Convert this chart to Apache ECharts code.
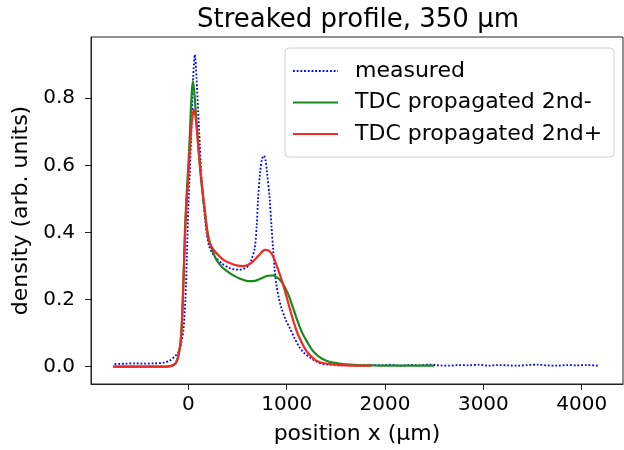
<!DOCTYPE html>
<html>
<head>
<meta charset="utf-8">
<script src="https://cdn.jsdelivr.net/npm/echarts@6/dist/echarts.min.js"></script>
<style>html,body{margin:0;padding:0;background:#fff}#c{width:624px;height:450px}</style>
</head>
<body>
<div id="c"></div>
<script>
var xTicks = [0, 1000, 2000, 3000, 4000];
var yTicks = [0, 0.2, 0.4, 0.6, 0.8];

var measuredX = [-750,-650,-550,-450,-350,-250,-190,-140,-100,-70,-50,-30,-15,0,15,32,49,66,83,100,117,134,150,170,185,210,240,286,340,421,470,523,570,607,640,675,695,709,730,750,767,785,800,827,845,861,878,895,920,946,990,1030,1080,1132,1180,1234,1300,1366,1450,1550,1650,1750,1850,1950,2050,2150,2250,2350,2450,2550,2650,2750,2850,2950,3050,3150,3250,3350,3450,3550,3650,3750,3850,3950,4050,4180];
var measuredY = [0.008,0.009,0.010,0.009,0.010,0.012,0.018,0.03,0.045,0.075,0.11,0.2,0.33,0.48,0.58,0.71,0.86,0.93,0.86,0.76,0.66,0.56,0.50,0.44,0.40,0.36,0.34,0.323,0.308,0.294,0.29,0.289,0.293,0.30,0.318,0.353,0.42,0.50,0.58,0.62,0.629,0.615,0.58,0.50,0.42,0.353,0.29,0.245,0.205,0.175,0.14,0.116,0.085,0.057,0.04,0.028,0.016,0.008,0.006,0.004,0.005,0.003,0.005,0.004,0.006,0.003,0.005,0.004,0.006,0.004,0.003,0.005,0.004,0.006,0.003,0.005,0.004,0.003,0.005,0.006,0.004,0.003,0.005,0.004,0.005,0.003];

var minusX = [-766,-300,-200,-150,-120,-100,-80,-65,-50,-35,-20,0,15,30,45,60,80,100,120,140,160,185,210,240,286,350,421,490,556,610,658,710,760,810,861,900,946,990,1030,1065,1098,1130,1166,1220,1267,1320,1369,1430,1504,1600,1707,1850,2000,2200,2500];
var minusY = [0,0,0.001,0.005,0.015,0.035,0.07,0.14,0.26,0.4,0.5,0.6,0.69,0.79,0.851,0.82,0.74,0.66,0.59,0.53,0.48,0.42,0.38,0.35,0.318,0.295,0.279,0.267,0.259,0.255,0.255,0.259,0.266,0.271,0.272,0.266,0.254,0.232,0.205,0.175,0.146,0.12,0.096,0.068,0.047,0.032,0.022,0.015,0.011,0.007,0.005,0.004,0.003,0.003,0.003];

var plusX = [-766,-300,-200,-150,-120,-100,-80,-65,-50,-35,-20,0,15,35,56,75,95,115,135,150,170,185,201,240,286,350,421,490,556,610,658,720,777,810,845,870,895,930,963,1000,1030,1070,1115,1160,1200,1250,1301,1370,1437,1550,1700,1860];
var plusY = [0,0,0.001,0.005,0.015,0.035,0.07,0.13,0.25,0.38,0.48,0.57,0.65,0.73,0.767,0.74,0.68,0.61,0.55,0.51,0.46,0.42,0.383,0.355,0.338,0.32,0.309,0.302,0.3,0.304,0.314,0.333,0.348,0.347,0.338,0.323,0.304,0.275,0.245,0.207,0.175,0.134,0.096,0.068,0.047,0.03,0.018,0.011,0.008,0.005,0.003,0.003];

function zip(xs, ys) { return xs.map(function (x, i) { return [x, ys[i]]; }); }

var FONT = 'DejaVu Sans';
var chart = echarts.init(document.getElementById('c'), null, {renderer: 'canvas'});
chart.setOption({
  animation: false,
  backgroundColor: '#ffffff',
  textStyle: {fontFamily: FONT},
  graphic: [{
    type: 'text', x: 358, y: 20,
    style: {text: 'Streaked profile, 350 µm', font: '26px "DejaVu Sans"', fill: '#000', align: 'center', verticalAlign: 'middle'}
  }],
  grid: {left: 91, top: 37, width: 532, height: 350, show: true, borderColor: '#222', borderWidth: 1, backgroundColor: 'transparent'},
  legend: {
    orient: 'vertical', left: 285, top: 48,
    padding: [11, 12, 11, 7], itemGap: 7.5, itemWidth: 45, itemHeight: 24,
    backgroundColor: 'rgba(255,255,255,0.8)', borderColor: '#d0d0d0', borderWidth: 1, borderRadius: 4,
    itemStyle: {opacity: 0},
    textStyle: {fontFamily: FONT, fontSize: 22, color: '#000', padding: [0, 0, 0, 12], lineHeight: 24},
    data: ['measured', 'TDC propagated 2nd-', 'TDC propagated 2nd+']
  },
  xAxis: {
    type: 'value', min: -990, max: 4420,
    name: 'position x (µm)', nameLocation: 'middle', nameGap: 39,
    nameTextStyle: {fontFamily: FONT, fontSize: 22, color: '#000'},
    axisLine: {show: true, onZero: false, lineStyle: {color: '#222', width: 1}},
    axisTick: {show: true, inside: false, length: 6, lineStyle: {color: '#222'}, customValues: xTicks},
    axisLabel: {fontFamily: FONT, fontSize: 20, color: '#000', margin: 11, customValues: xTicks,
      formatter: function (v) { return String(v); }},
    splitLine: {show: false}
  },
  yAxis: {
    type: 'value', min: -0.0515, max: 0.9826,
    name: 'density (arb. units)', nameLocation: 'middle', nameGap: 58, nameRotate: 90,
    nameTextStyle: {fontFamily: FONT, fontSize: 22, color: '#000'},
    axisLine: {show: true, onZero: false, lineStyle: {color: '#222', width: 1}},
    axisTick: {show: true, inside: false, length: 6, lineStyle: {color: '#222'}, customValues: yTicks},
    axisLabel: {fontFamily: FONT, fontSize: 20, color: '#000', margin: 16, customValues: yTicks,
      formatter: function (v) { return v.toFixed(1); }},
    splitLine: {show: false}
  },
  series: [
    {name: 'measured', type: 'line', data: zip(measuredX, measuredY), symbol: 'none', smooth: 0.3,
      lineStyle: {color: '#0000ff', width: 1.8, type: [1.8, 1.9]}, itemStyle: {color: '#0000ff'}, z: 2},
    {name: 'TDC propagated 2nd-', type: 'line', data: zip(minusX, minusY), symbol: 'none', smooth: 0.3,
      lineStyle: {color: '#1a8a1a', width: 2.2}, itemStyle: {color: '#1a8a1a'}, z: 3},
    {name: 'TDC propagated 2nd+', type: 'line', data: zip(plusX, plusY), symbol: 'none', smooth: 0.3,
      lineStyle: {color: '#ee2a22', width: 2.2}, itemStyle: {color: '#ee2a22'}, z: 4}
  ]
});
</script>
</body>
</html>
